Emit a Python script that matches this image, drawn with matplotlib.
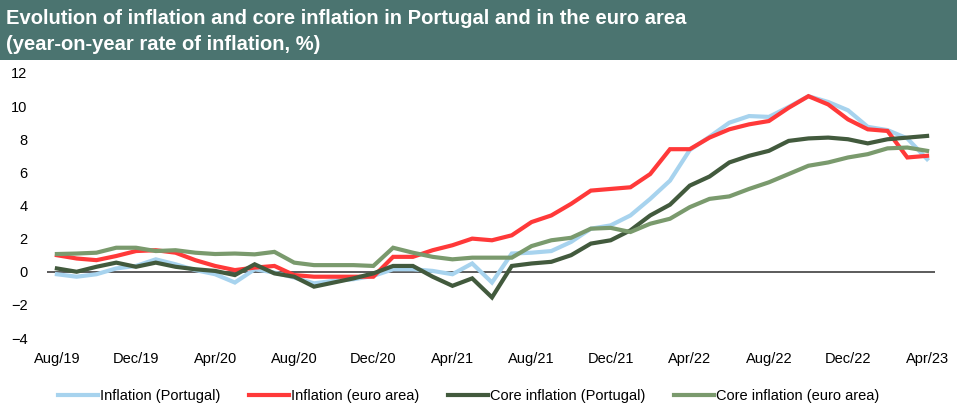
import matplotlib.pyplot as plt
from matplotlib.patches import Rectangle

# monthly data, Aug/19 .. Apr/23
months = ["Aug/19", "Sep/19", "Oct/19", "Nov/19", "Dec/19",
          "Jan/20", "Feb/20", "Mar/20", "Apr/20", "May/20", "Jun/20", "Jul/20",
          "Aug/20", "Sep/20", "Oct/20", "Nov/20", "Dec/20",
          "Jan/21", "Feb/21", "Mar/21", "Apr/21", "May/21", "Jun/21", "Jul/21",
          "Aug/21", "Sep/21", "Oct/21", "Nov/21", "Dec/21",
          "Jan/22", "Feb/22", "Mar/22", "Apr/22", "May/22", "Jun/22", "Jul/22",
          "Aug/22", "Sep/22", "Oct/22", "Nov/22", "Dec/22",
          "Jan/23", "Feb/23", "Mar/23", "Apr/23"]

infl_pt = [-0.15, -0.3, -0.15, 0.2, 0.35, 0.75, 0.45, 0.1, -0.15, -0.65, 0.15, -0.05,
           -0.35, -0.7, -0.55, -0.45, -0.25, 0.15, 0.15, 0.05, -0.15, 0.5, -0.65, 1.1,
           1.15, 1.25, 1.8, 2.6, 2.8, 3.4, 4.4, 5.5, 7.35, 8.15, 9.0, 9.4,
           9.35, 9.95, 10.6, 10.25, 9.75, 8.75, 8.55, 8.05, 6.8]
infl_ea = [1.0, 0.8, 0.7, 0.95, 1.25, 1.3, 1.15, 0.7, 0.35, 0.1, 0.25, 0.35,
           -0.2, -0.3, -0.3, -0.3, -0.3, 0.9, 0.9, 1.3, 1.6, 2.0, 1.9, 2.2,
           3.0, 3.4, 4.1, 4.9, 5.0, 5.1, 5.9, 7.4, 7.4, 8.1, 8.6, 8.9,
           9.1, 9.9, 10.6, 10.1, 9.2, 8.6, 8.5, 6.9, 7.0]
core_pt = [0.2, 0.0, 0.3, 0.55, 0.3, 0.55, 0.3, 0.15, 0.05, -0.2, 0.45, -0.1,
           -0.3, -0.9, -0.65, -0.4, -0.1, 0.35, 0.35, -0.3, -0.85, -0.4, -1.55, 0.35,
           0.5, 0.6, 1.0, 1.7, 1.9, 2.5, 3.4, 4.05, 5.2, 5.75, 6.6, 7.0,
           7.3, 7.9, 8.05, 8.1, 8.0, 7.75, 8.0, 8.1, 8.2]
core_ea = [1.07, 1.1, 1.15, 1.45, 1.45, 1.25, 1.3, 1.15, 1.07, 1.1, 1.05, 1.2,
           0.55, 0.4, 0.4, 0.4, 0.35, 1.45, 1.15, 0.9, 0.75, 0.85, 0.85, 0.85,
           1.55, 1.9, 2.05, 2.6, 2.65, 2.4, 2.9, 3.2, 3.9, 4.4, 4.55, 5.0,
           5.4, 5.9, 6.4, 6.6, 6.9, 7.1, 7.45, 7.5, 7.3]

series = [
    ("Inflation (Portugal)", infl_pt, "#A7D3EE"),
    ("Inflation (euro area)", infl_ea, "#FF3939"),
    ("Core inflation (Portugal)", core_pt, "#425A3D"),
    ("Core inflation (euro area)", core_ea, "#7A9A6D"),
]

plt.rcParams['font.family'] = ['Liberation Sans', 'DejaVu Sans']

fig = plt.figure(figsize=(9.57, 4.04), dpi=100)

# title banner
fig.patches.append(Rectangle((0, 1 - 60 / 404), 1, 60 / 404, transform=fig.transFigure,
                             facecolor="#4B7470", edgecolor="none", zorder=0))
fig.text(0.006, 1 - 18 / 404, "Evolution of inflation and core inflation in Portugal and in the euro area",
         color="white", fontsize=14.5, fontweight="bold", va="center")
fig.text(0.006, 1 - 45 / 404, "(year-on-year rate of inflation, %)",
         color="white", fontsize=14.5, fontweight="bold", va="center")

ax = fig.add_axes([47 / 957, 1 - 338 / 404, (935 - 47) / 957, 265 / 404])
x = list(range(len(months)))
for name, vals, col in series:
    ax.plot(x, vals, color=col, lw=3.0, label=name, solid_joinstyle="miter")

ax.axhline(0, color="#404040", lw=1.2, zorder=1)
ax.set_ylim(-4, 12)
ax.set_yticks(range(-4, 13, 2))
ax.set_xlim(-0.5, 44.4)
ax.set_xticks(x[::4])
ax.set_xticklabels(months[::4])
for s in ax.spines.values():
    s.set_visible(False)
ax.tick_params(length=0, labelsize=10.5, colors="black")
ax.tick_params(axis="x", pad=10)
ax.tick_params(axis="y", pad=14)

ax.legend(loc="center", bbox_to_anchor=(0.475, -0.22), ncol=4, frameon=False,
          fontsize=10.5, handlelength=2.7, columnspacing=2.0, handletextpad=0.15)

fig.savefig("out.png", dpi=100)
